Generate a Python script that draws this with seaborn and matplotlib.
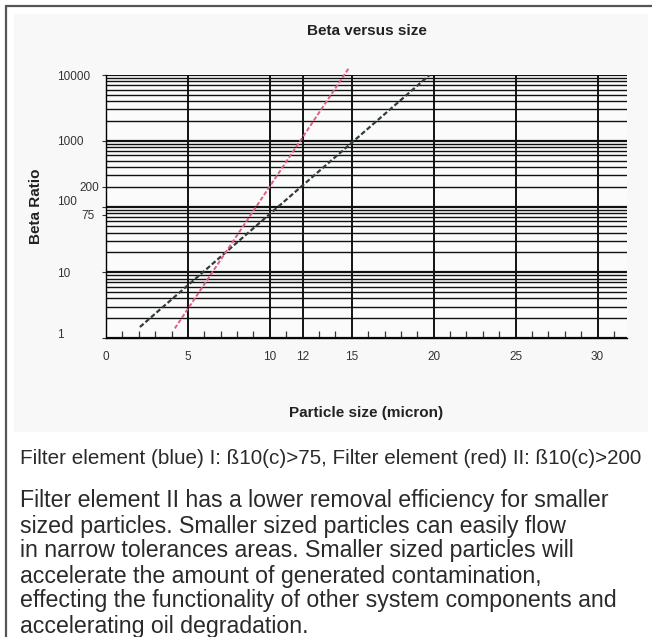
import numpy as np
import pandas as pd
import seaborn as sns
import matplotlib
import matplotlib.pyplot as plt
from matplotlib.lines import Line2D
from matplotlib.patches import Rectangle
from matplotlib.ticker import MultipleLocator, LogLocator, NullFormatter
from matplotlib.transforms import ScaledTranslation

matplotlib.use("Agg")

# values
size_blue = [2.07, 19.75]
beta_blue = [1.47, 10000]
size_red = [4.2, 14.8]
beta_red = [1.4, 12500]

size_ticks = [0, 5, 10, 12, 15, 20, 25, 30]
size_tick_labels = ["0", "5", "10", "12", "15", "20", "25", "30"]
beta_ticks = [1, 10, 75, 100, 200, 1000, 10000]
beta_tick_labels = ["1", "10", "75", "100", "200", "1000", "10000"]

caption = "Filter element (blue) I: ß10(c)>75, Filter element (red) II: ß10(c)>200"
paragraph = [
    "Filter element II has a lower removal efficiency for smaller",
    "sized particles. Smaller sized particles can easily flow",
    "in narrow tolerances areas. Smaller sized particles will",
    "accelerate the amount of generated contamination,",
    "effecting the functionality of other system components and",
    "accelerating oil degradation.",
]

df_blue = pd.DataFrame({"size": size_blue, "beta": beta_blue})
df_red = pd.DataFrame({"size": size_red, "beta": beta_red})

sns.set_theme(style="white")
plt.rcParams["font.family"] = ["Liberation Sans", "DejaVu Sans"]

W, H = 652, 637
fig = plt.figure(figsize=(W / 100, H / 100), dpi=100)
fig.patch.set_facecolor("white")

# light background of the chart picture
fig.add_artist(
    Rectangle((14 / W, 1 - 432 / H), 634 / W, 418 / H, transform=fig.transFigure,
              facecolor="#f8f8f8", edgecolor="none", zorder=-10)
)

ax = fig.add_axes([106 / W, 1 - 338 / H, (627 - 106) / W, (338 - 75) / H])
ax.set_facecolor("#fbfbfb")
ax.set_yscale("log")

sns.lineplot(data=df_blue, x="size", y="beta", ax=ax, color="#2f3d3a",
             linestyle=(0, (2.2, 1.1)), lw=1.6, zorder=5)
sns.lineplot(data=df_red, x="size", y="beta", ax=ax, color="#de5f7f",
             linestyle=(0, (2.2, 1.1)), lw=1.4, zorder=5, clip_on=False)

ax.set_xlim(0, 31.8)
ax.set_ylim(1, 10000)

ax.set_xticks(size_ticks)
ax.set_xticklabels(size_tick_labels)
ax.xaxis.set_minor_locator(MultipleLocator(1))

ax.set_yticks(beta_ticks)
ax.set_yticklabels(beta_tick_labels)
ax.yaxis.set_minor_locator(LogLocator(base=10, subs=np.arange(1, 10), numticks=30))
ax.yaxis.set_minor_formatter(NullFormatter())
ax.yaxis.remove_overlapping_locs = False

ax.grid(False)
ax.xaxis.grid(True, which="major", color="black", lw=1.3)
ax.yaxis.grid(True, which="minor", color="#111111", lw=1.0)

for side in ["top", "right"]:
    ax.spines[side].set_visible(False)
for side in ["left", "bottom"]:
    ax.spines[side].set_color("black")
    ax.spines[side].set_linewidth(1.0)

ax.tick_params(axis="x", which="major", bottom=False, length=0, pad=9, labelsize=8.5,
               labelcolor="#333333")
ax.tick_params(axis="x", which="minor", bottom=True, direction="in", length=5, width=0.9,
               color="#333333")
ax.tick_params(axis="y", which="major", left=True, direction="out", length=3, width=0.8,
               color="#333333", pad=2, labelsize=8.5, labelcolor="#333333")
ax.tick_params(axis="y", which="minor", left=False, length=0)

# thicker decade lines
locs = ax.yaxis.get_minorticklocs()
for loc, tick in zip(locs, ax.yaxis.get_minor_ticks(len(locs))):
    if abs(np.log10(loc) - round(np.log10(loc))) < 1e-6:
        tick.gridline.set_linewidth(1.6)

# placement of the y tick labels as in the original picture
shift = {"1": (-42, 4, "left"), "10": (-42, 0, "left"), "100": (-42, 6, "left"),
         "1000": (-42, 0, "left"), "10000": (-42, 0, "left"),
         "75": (-4, 0, "right"), "200": (0, 0, "right")}
for tick, name in zip(ax.yaxis.get_major_ticks(), beta_tick_labels):
    dx, dy, ha = shift[name]
    tick.label1.set_ha(ha)
    tick.label1.set_transform(tick.label1.get_transform()
                              + ScaledTranslation(dx / 100, dy / 100, fig.dpi_scale_trans))

ax.set_title("Beta versus size", fontsize=11, fontweight="bold", color="#222222", pad=29)
ax.set_xlabel("Particle size (micron)", fontsize=11, fontweight="bold", color="#222222")
ax.set_ylabel("Beta Ratio", fontsize=11, fontweight="bold", color="#222222")
ax.xaxis.set_label_coords(0.5, (338 - 406) / (338 - 75))
ax.yaxis.set_label_coords((43 - 106) / (627 - 106), 0.5)

# frame lines at top and left of the page
fig.add_artist(Line2D([6 / W, 1], [1 - 6 / H, 1 - 6 / H], transform=fig.transFigure,
                      color="#555555", lw=1.6))
fig.add_artist(Line2D([6 / W, 6 / W], [0, 1 - 6 / H], transform=fig.transFigure,
                      color="#555555", lw=1.6))

fig.text(20 / W, 1 - 459 / H, caption, fontsize=14.9, color="#2a2a2a", va="center", ha="left")
for i, line in enumerate(paragraph):
    fig.text(20 / W, 1 - (501 + 25 * i) / H, line, fontsize=16.7, color="#2a2a2a",
             va="center", ha="left")

plt.savefig("out.png", dpi=100)
